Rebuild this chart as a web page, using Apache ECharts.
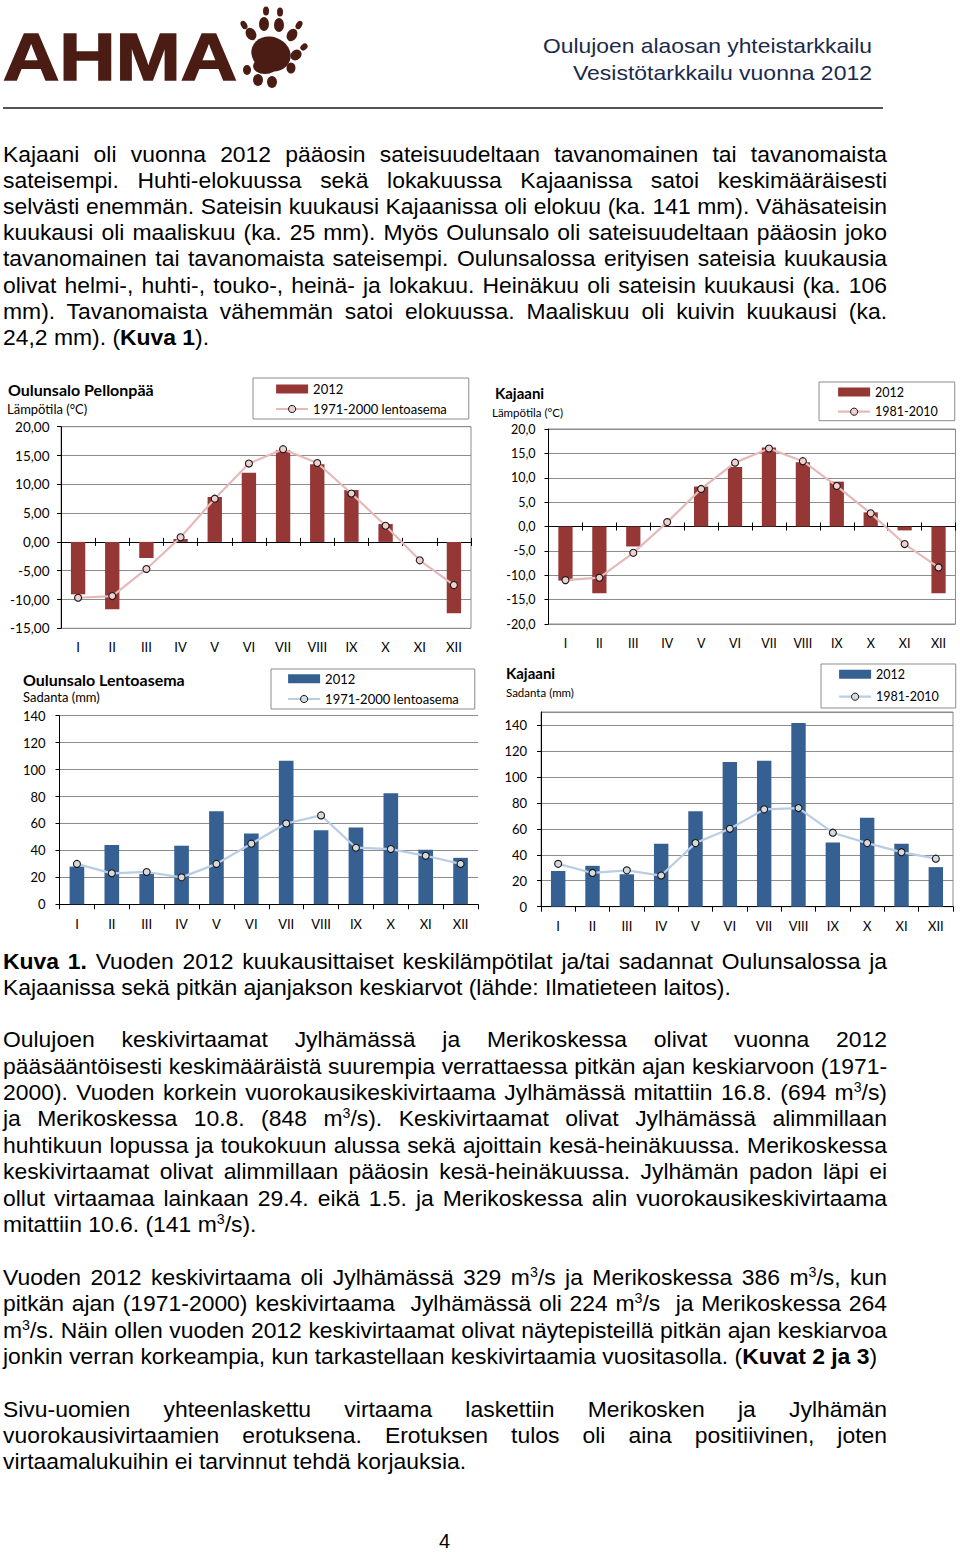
<!DOCTYPE html>
<html>
<head>
<meta charset="utf-8">
<script src="https://cdn.jsdelivr.net/npm/echarts@6/dist/echarts.min.js"></script>
<style>
html,body{margin:0;padding:0;background:#fff;}
#page{position:relative;width:960px;height:1552px;overflow:hidden;background:#fff;}
#chart{position:absolute;left:0;top:0;width:960px;height:1552px;}
.ln{position:absolute;left:3px;white-space:pre;font-family:"Liberation Sans",Arial,sans-serif;color:#000;}
.ln sup{font-size:0.62em;line-height:0;vertical-align:0.55em;}
#logoText{position:absolute;left:3px;white-space:pre;font-family:"Liberation Sans",Arial,sans-serif;font-weight:bold;color:#4a1c14;-webkit-text-stroke:1.6px #4a1c14;transform-origin:0 0;}
#rule{position:absolute;left:3px;top:107px;width:880px;height:2px;background:#555;}
</style>
</head>
<body>
<div id="page">
  <div id="chart"></div>
  <div id="text"></div>
  <div id="rule"></div>
  <svg id="paw" style="position:absolute;left:0;top:0" width="320" height="100" viewBox="0 0 320 100">
    <g fill="#4a1c14">
      <ellipse cx="271" cy="54" rx="20" ry="17" transform="rotate(20 271 54)"/>
      <ellipse cx="265" cy="66" rx="12" ry="8"/>
      <ellipse cx="264" cy="24" rx="5" ry="7"/>
      <ellipse cx="266" cy="11" rx="3" ry="4.5"/>
      <ellipse cx="279" cy="25" rx="5" ry="7"/>
      <ellipse cx="280" cy="12" rx="3" ry="4.5"/>
      <ellipse cx="251" cy="34" rx="5" ry="6.5" transform="rotate(-30 251 34)"/>
      <ellipse cx="244" cy="25" rx="3" ry="4.5" transform="rotate(-30 244 25)"/>
      <ellipse cx="292" cy="35" rx="5" ry="6.5" transform="rotate(30 292 35)"/>
      <ellipse cx="299" cy="25" rx="3" ry="4.5" transform="rotate(30 299 25)"/>
      <ellipse cx="296" cy="55" rx="5" ry="6" transform="rotate(50 296 55)"/>
      <ellipse cx="304" cy="47" rx="3" ry="4" transform="rotate(50 304 47)"/>
      <ellipse cx="291" cy="68" rx="4.5" ry="5.5"/>
      <ellipse cx="258" cy="80" rx="5" ry="6"/>
      <ellipse cx="272" cy="82" rx="5" ry="6"/>
      <ellipse cx="247" cy="70" rx="4" ry="5"/>
    </g>
  </svg>
</div>
<script>
// ---------------- DATA ----------------
const months = ['I','II','III','IV','V','VI','VII','VIII','IX','X','XI','XII'];
const oulTemp2012   = [-9.1,-11.7,-2.8,0.5,7.8,12.0,15.9,13.5,9.0,3.1,0,-12.4];
const oulTempNormal = [-9.7,-9.4,-4.7,0.8,7.5,13.6,16.1,13.7,8.4,2.8,-3.2,-7.5];
const kajTemp2012   = [-11.1,-13.7,-4.1,0.1,8.2,12.2,16.2,13.2,9.2,2.9,-0.8,-13.7];
const kajTempNormal = [-11.0,-10.5,-5.4,0.9,7.7,13.1,16.0,13.4,8.3,2.7,-3.6,-8.4];
const oulPrec2012   = [28,44,22.5,43.5,69,52.5,106.5,55,57,82.5,40.5,34.5];
const oulPrecNormal = [30,23,24,20,30,45,60,66,42,41,36,30];
const kajPrec2012   = [27.5,31.5,25,48.5,73.5,111.5,112.5,141.5,49.5,68.5,48.5,30.5];
const kajPrecNormal = [33,26,28,24,49,60,75,76,57,49,42,37];
const seriesNames = {bar:'2012', oulNormal:'1971-2000 lentoasema', kajNormal:'1981-2010'};

// ---------------- TEXT ----------------
const FS = 22.9;
const textLines = [
 {y:162.0, j:1, t:'Kajaani oli vuonna 2012 pääosin sateisuudeltaan tavanomainen tai tavanomaista'},
 {y:188.2, j:1, t:'sateisempi. Huhti-elokuussa sekä lokakuussa Kajaanissa satoi keskimääräisesti'},
 {y:214.4, j:1, t:'selvästi enemmän. Sateisin kuukausi Kajaanissa oli elokuu (ka. 141 mm). Vähäsateisin'},
 {y:240.6, j:1, t:'kuukausi oli maaliskuu (ka. 25 mm). Myös Oulunsalo oli sateisuudeltaan pääosin joko'},
 {y:266.8, j:1, t:'tavanomainen tai tavanomaista sateisempi. Oulunsalossa erityisen sateisia kuukausia'},
 {y:293.0, j:1, t:'olivat helmi-, huhti-, touko-, heinä- ja lokakuu. Heinäkuu oli sateisin kuukausi (ka. 106'},
 {y:319.2, j:1, t:'mm). Tavanomaista vähemmän satoi elokuussa. Maaliskuu oli kuivin kuukausi (ka.'},
 {y:345.4, j:0, t:'24,2 mm). (<b>Kuva 1</b>).'},
 {y:969.0, j:1, t:'<b>Kuva 1.</b> Vuoden 2012 kuukausittaiset keskilämpötilat ja/tai sadannat Oulunsalossa ja'},
 {y:995.5, j:0, t:'Kajaanissa sekä pitkän ajanjakson keskiarvot (lähde: Ilmatieteen laitos).'},
 {y:1047.5, j:1, t:'Oulujoen keskivirtaamat Jylhämässä ja Merikoskessa olivat vuonna 2012'},
 {y:1073.9, j:1, t:'pääsääntöisesti keskimääräistä suurempia verrattaessa pitkän ajan keskiarvoon (1971-'},
 {y:1100.3, j:1, t:'2000). Vuoden korkein vuorokausikeskivirtaama Jylhämässä mitattiin 16.8. (694 m<sup>3</sup>/s)'},
 {y:1126.7, j:1, t:'ja Merikoskessa 10.8. (848 m<sup>3</sup>/s). Keskivirtaamat olivat Jylhämässä alimmillaan'},
 {y:1153.1, j:1, t:'huhtikuun lopussa ja toukokuun alussa sekä ajoittain kesä-heinäkuussa. Merikoskessa'},
 {y:1179.5, j:1, t:'keskivirtaamat olivat alimmillaan pääosin kesä-heinäkuussa. Jylhämän padon läpi ei'},
 {y:1205.9, j:1, t:'ollut virtaamaa lainkaan 29.4. eikä 1.5. ja Merikoskessa alin vuorokausikeskivirtaama'},
 {y:1232.3, j:0, t:'mitattiin 10.6. (141 m<sup>3</sup>/s).'},
 {y:1285.0, j:1, t:'Vuoden 2012 keskivirtaama oli Jylhämässä 329 m<sup>3</sup>/s ja Merikoskessa 386 m<sup>3</sup>/s, kun'},
 {y:1311.5, j:1, t:'pitkän ajan (1971-2000) keskivirtaama  Jylhämässä oli 224 m<sup>3</sup>/s  ja Merikoskessa 264'},
 {y:1338.0, j:1, t:'m<sup>3</sup>/s. Näin ollen vuoden 2012 keskivirtaamat olivat näytepisteillä pitkän ajan keskiarvoa'},
 {y:1364.5, j:0, t:'jonkin verran korkeampia, kun tarkastellaan keskivirtaamia vuositasolla. (<b>Kuvat 2 ja 3</b>)'},
 {y:1417.0, j:1, t:'Sivu-uomien yhteenlaskettu virtaama laskettiin Merikosken ja Jylhämän'},
 {y:1443.2, j:1, t:'vuorokausivirtaamien erotuksena. Erotuksen tulos oli aina positiivinen, joten'},
 {y:1469.4, j:0, t:'virtaamalukuihin ei tarvinnut tehdä korjauksia.'}
];
const textBox = document.getElementById('text');
function addLine(o, opts){
  const d = document.createElement('div');
  d.className = 'ln';
  d.innerHTML = o.t;
  const fs = (opts && opts.fs) || FS;
  d.style.fontSize = fs + 'px';
  d.style.lineHeight = fs + 'px';
  d.style.top = (o.y - 0.8465 * fs) + 'px';
  if (opts && opts.color) d.style.color = opts.color;
  textBox.appendChild(d);
  const target = o.w || (o.j ? 884 : 0);
  if (target) {
    const w = d.getBoundingClientRect().width;
    const n = (d.textContent.match(/ /g) || []).length;
    if (n > 0) d.style.wordSpacing = ((target - w) / n) + 'px';
  }
  return d;
}
textLines.forEach(o => addLine(o));
// header
function addRight(txt, y, right, width, fs, color){
  const d = addLine({y:y, t:txt}, {fs:fs, color:color});
  const w = d.getBoundingClientRect().width;
  const s = width / w;
  d.style.transformOrigin = '0 0';
  d.style.transform = 'scaleX(' + s + ')';
  d.style.left = (right - width) + 'px';
}
addRight('Oulujoen alaosan yhteistarkkailu', 52.5, 872, 329, 21, '#1b2a4a');
addRight('Vesistötarkkailu vuonna 2012', 79.5, 872, 299, 21, '#1b2a4a');
addLine({y:1548, t:'4'}, {fs:20}).style.left = '439px';
// logo text
(function(){
  const d = document.createElement('div');
  d.id = 'logoText';
  d.textContent = 'AHMA';
  const fs = 67;
  d.style.fontSize = fs + 'px';
  d.style.lineHeight = fs + 'px';
  d.style.top = (80 - 0.8465 * fs) + 'px';
  document.getElementById('page').appendChild(d);
  const w = d.getBoundingClientRect().width;
  d.style.transform = 'scaleX(' + (234 / w) + ')';
})();

// ---------------- CHARTS ----------------
const FONT = 'Lato';
const grid = (left, top, width, height, border) => ({
  left, top, width, height, show: border, borderColor:'#8c8c8c', borderWidth:1,
  backgroundColor:'transparent', containLabel:false, outerBoundsMode:'none'
});
function yAxis(gi, min, max, interval, dec, fs, margin, hideMax){
  return {type:'value', gridIndex:gi, min, max, interval,
    axisLine:{show:true, lineStyle:{color:'#000', width:1}},
    axisTick:{show:true, length:4, lineStyle:{color:'#000'}},
    splitLine:{show:true, lineStyle:{color:'#8c8c8c', width:1}},
    axisLabel:{color:'#000', fontFamily:FONT, fontSize:fs, margin, showMaxLabel: hideMax ? false : null,
      formatter: v => dec ? v.toFixed(dec).replace('.', ',') : String(v)}};
}
function xLabelAxis(gi, fs, margin){
  return {type:'category', gridIndex:gi, data:months, position:'bottom',
    axisLine:{show:false, onZero:false}, axisTick:{show:false}, splitLine:{show:false},
    axisLabel:{color:'#000', fontFamily:FONT, fontSize:fs, margin, interval:0}};
}
function xZeroAxis(gi, yi, inside){
  return {type:'category', gridIndex:gi, data:months, position:'bottom',
    axisLine:{show:true, onZero:true, onZeroAxisIndex:yi, lineStyle:{color:'#000', width:1}},
    axisTick:{show:true, inside, length:4, lineStyle:{color:'#000'}},
    axisLabel:{show:false}, splitLine:{show:false}};
}
function xBottomAxis(gi, fs, margin){
  return {type:'category', gridIndex:gi, data:months, position:'bottom',
    axisLine:{show:true, onZero:false, lineStyle:{color:'#000', width:1}},
    axisTick:{show:true, length:5, lineStyle:{color:'#000'}}, splitLine:{show:false},
    axisLabel:{color:'#000', fontFamily:FONT, fontSize:fs, margin, interval:0}};
}
const RED = '#953735', PINK = '#e6b9b8', PINKF = '#f0cfce';
const BLUE = '#376092', LBLUE = '#b9cde5', LBLUEF = '#d5d9e0';
function barS(name, xi, yi, data, color){
  return {type:'bar', name, xAxisIndex:xi, yAxisIndex:yi, data, barWidth:'42%',
    itemStyle:{color}, z:2};
}
function lineS(name, xi, yi, data, lc, fc){
  return {type:'line', name, xAxisIndex:xi, yAxisIndex:yi, data, symbol:'circle', symbolSize:7,
    lineStyle:{color:lc, width:2.2}, itemStyle:{color:fc, borderColor:'#1a1a1a', borderWidth:1.1}, z:5};
}
function legend(left, top, pad, gap, fs, names, barColor, lc, fc){
  return {orient:'vertical', left, top, padding:pad, itemGap:gap, itemWidth:32, itemHeight:9,
    borderColor:'#8c8c8c', borderWidth:1, borderRadius:0, backgroundColor:'#fff', selectedMode:false,
    textStyle:{color:'#000', fontFamily:FONT, fontSize:fs, lineHeight:14},
    data:[
      {name:names[0], icon:'rect', itemStyle:{color:barColor, borderWidth:0}},
      {name:names[1], itemStyle:{color:fc, borderColor:'#1a1a1a', borderWidth:1}, lineStyle:{color:lc, width:2.2}}
    ]};
}
function ttl(text, left, top, fs, bold){
  return {text, left, top, padding:0, textStyle:{fontFamily:FONT, fontSize:fs, fontWeight: bold ? 'bold' : 'normal', color:'#000'}};
}

const option = {
  animation:false,
  title:[
    ttl('Oulunsalo Pellonpää', 8, 381, 16, true),
    ttl('Lämpötila (°C)', 7, 402, 13, false),
    ttl('Kajaani', 495, 385, 15, true),
    ttl('Lämpötila (°C)', 492, 406.5, 11.5, false),
    ttl('Oulunsalo Lentoasema', 23, 671, 16, true),
    ttl('Sadanta (mm)', 23, 690.5, 13, false),
    ttl('Kajaani', 506, 665, 15, true),
    ttl('Sadanta (mm)', 506, 686.5, 11.5, false)
  ],
  legend:[
    legend(253, 378, [4,22,3,22], 6, 13, [seriesNames.bar, seriesNames.oulNormal], RED, PINK, PINKF),
    legend(819, 382, [3,17,2,18], 5.7, 12.5, [seriesNames.bar, seriesNames.kajNormal], RED, PINK, PINKF),
    legend(271, 669, [2.7,16,3,16], 6.3, 13, [seriesNames.bar, seriesNames.oulNormal], BLUE, LBLUE, LBLUEF),
    legend(821, 664, [3.3,17,4.3,17], 8.4, 12.5, [seriesNames.bar, seriesNames.kajNormal], BLUE, LBLUE, LBLUEF)
  ],
  grid:[
    grid(61, 426.7, 410, 201.6, true),
    grid(548.5, 429, 407, 195, true),
    grid(59.5, 715.7, 418.5, 188.6, false),
    grid(541, 712, 412, 194.7, true)
  ],
  yAxis:[
    yAxis(0, -15, 20, 5, 2, 13.5, 11.5),
    yAxis(1, -20, 20, 5, 1, 12.5, 13),
    yAxis(2, 0, 140, 20, 0, 13, 14),
    yAxis(3, 0, 150, 20, 0, 13, 14, true)
  ],
  xAxis:[
    xLabelAxis(0, 13, 12), xZeroAxis(0, 0, true), xZeroAxis(0, 0, false),
    xLabelAxis(1, 12.5, 12.5), xZeroAxis(1, 1, true), xZeroAxis(1, 1, false),
    xBottomAxis(2, 13, 13),
    xBottomAxis(3, 13, 12.5)
  ],
  series:[
    barS(seriesNames.bar, 0, 0, oulTemp2012, RED),
    lineS(seriesNames.oulNormal, 0, 0, oulTempNormal, PINK, PINKF),
    barS(seriesNames.bar, 3, 1, kajTemp2012, RED),
    lineS(seriesNames.kajNormal, 3, 1, kajTempNormal, PINK, PINKF),
    barS(seriesNames.bar, 6, 2, oulPrec2012, BLUE),
    lineS(seriesNames.oulNormal, 6, 2, oulPrecNormal, LBLUE, LBLUEF),
    barS(seriesNames.bar, 7, 3, kajPrec2012, BLUE),
    lineS(seriesNames.kajNormal, 7, 3, kajPrecNormal, LBLUE, LBLUEF)
  ]
};
const chart = echarts.init(document.getElementById('chart'), null, {renderer:'svg'});
chart.setOption(option);
</script>
</body>
</html>
